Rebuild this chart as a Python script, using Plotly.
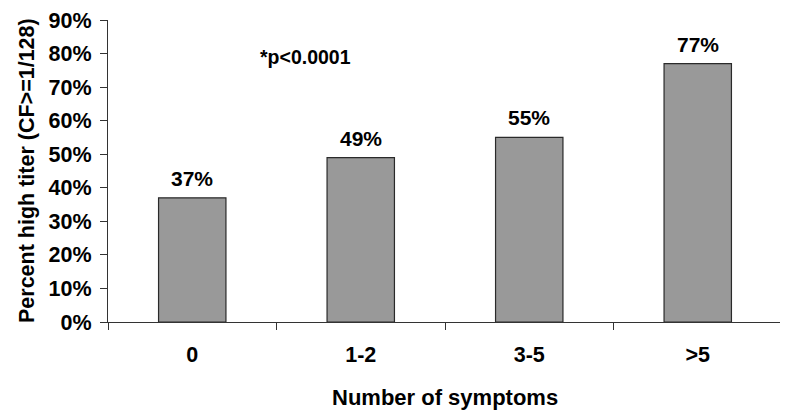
import plotly.graph_objects as go

categories = ["0", "1-2", "3-5", ">5"]
values = [0.37, 0.49, 0.55, 0.77]
bar_labels = ["37%", "49%", "55%", "77%"]
y_ticks = [0, 0.1, 0.2, 0.3, 0.4, 0.5, 0.6, 0.7, 0.8, 0.9]
y_tick_labels = ["0%", "10%", "20%", "30%", "40%", "50%", "60%", "70%", "80%", "90%"]
note = "*p<0.0001"
x_title = "Number of symptoms"
y_title = "Percent high titer (CF>=1/128)"

FONT = "Liberation Sans, Arial, sans-serif"
AX = "#333333"

fig = go.Figure()
fig.add_trace(go.Bar(
    x=categories, y=values, width=0.4,
    marker=dict(color="#999999", line=dict(color="#2a2a2a", width=1.2)),
    hoverinfo="skip",
))

for c, v, t in zip(categories, values, bar_labels):
    fig.add_annotation(x=c, y=v, text="<b>%s</b>" % t, showarrow=False,
                       yanchor="bottom", yshift=6,
                       font=dict(family=FONT, size=21, color="black"))

fig.add_annotation(x=0.67, y=0.79, xref="x", yref="y", text="<b>%s</b>" % note,
                   showarrow=False, xanchor="center", yanchor="middle",
                   font=dict(family=FONT, size=19.5, color="black"))

# axis titles
fig.add_annotation(x=0, y=0.5, xref="paper", yref="paper", xshift=-81,
                   text="<b>%s</b>" % y_title, textangle=-90, showarrow=False,
                   xanchor="center", yanchor="middle",
                   font=dict(family=FONT, size=21.5, color="black"))
fig.add_annotation(x=0.5, y=0, xref="paper", yref="paper", yshift=-75,
                   text="<b>%s</b>" % x_title, showarrow=False,
                   xanchor="center", yanchor="middle",
                   font=dict(family=FONT, size=22, color="black"))

fig.update_layout(
    width=780, height=403,
    margin=dict(l=100, r=6, t=12, b=89),
    paper_bgcolor="white", plot_bgcolor="white",
    showlegend=False,
    font=dict(family=FONT, color="black"),
)
fig.update_xaxes(
    range=[-0.5, 3.5], showline=True, linecolor=AX, linewidth=1.2,
    ticks="outside", tickson="boundaries", ticklen=7, tickcolor=AX, tickwidth=1.2,
    tickfont=dict(family=FONT, size=21.5, color="black"),
    tickprefix="<b>", ticksuffix="</b>", ticklabelstandoff=13,
    showgrid=False, zeroline=False, fixedrange=True, automargin=False,
)
fig.update_yaxes(
    range=[0, 0.9], tickvals=y_ticks, ticktext=["<b>%s</b>" % s for s in y_tick_labels],
    showline=True, linecolor=AX, linewidth=1.2,
    ticks="outside", ticklen=7, tickcolor=AX, tickwidth=1.2, ticklabelstandoff=4,
    tickfont=dict(family=FONT, size=21.5, color="black"),
    showgrid=False, zeroline=False, fixedrange=True, automargin=False,
)

fig.write_html("out.html", config={"displayModeBar": False})
